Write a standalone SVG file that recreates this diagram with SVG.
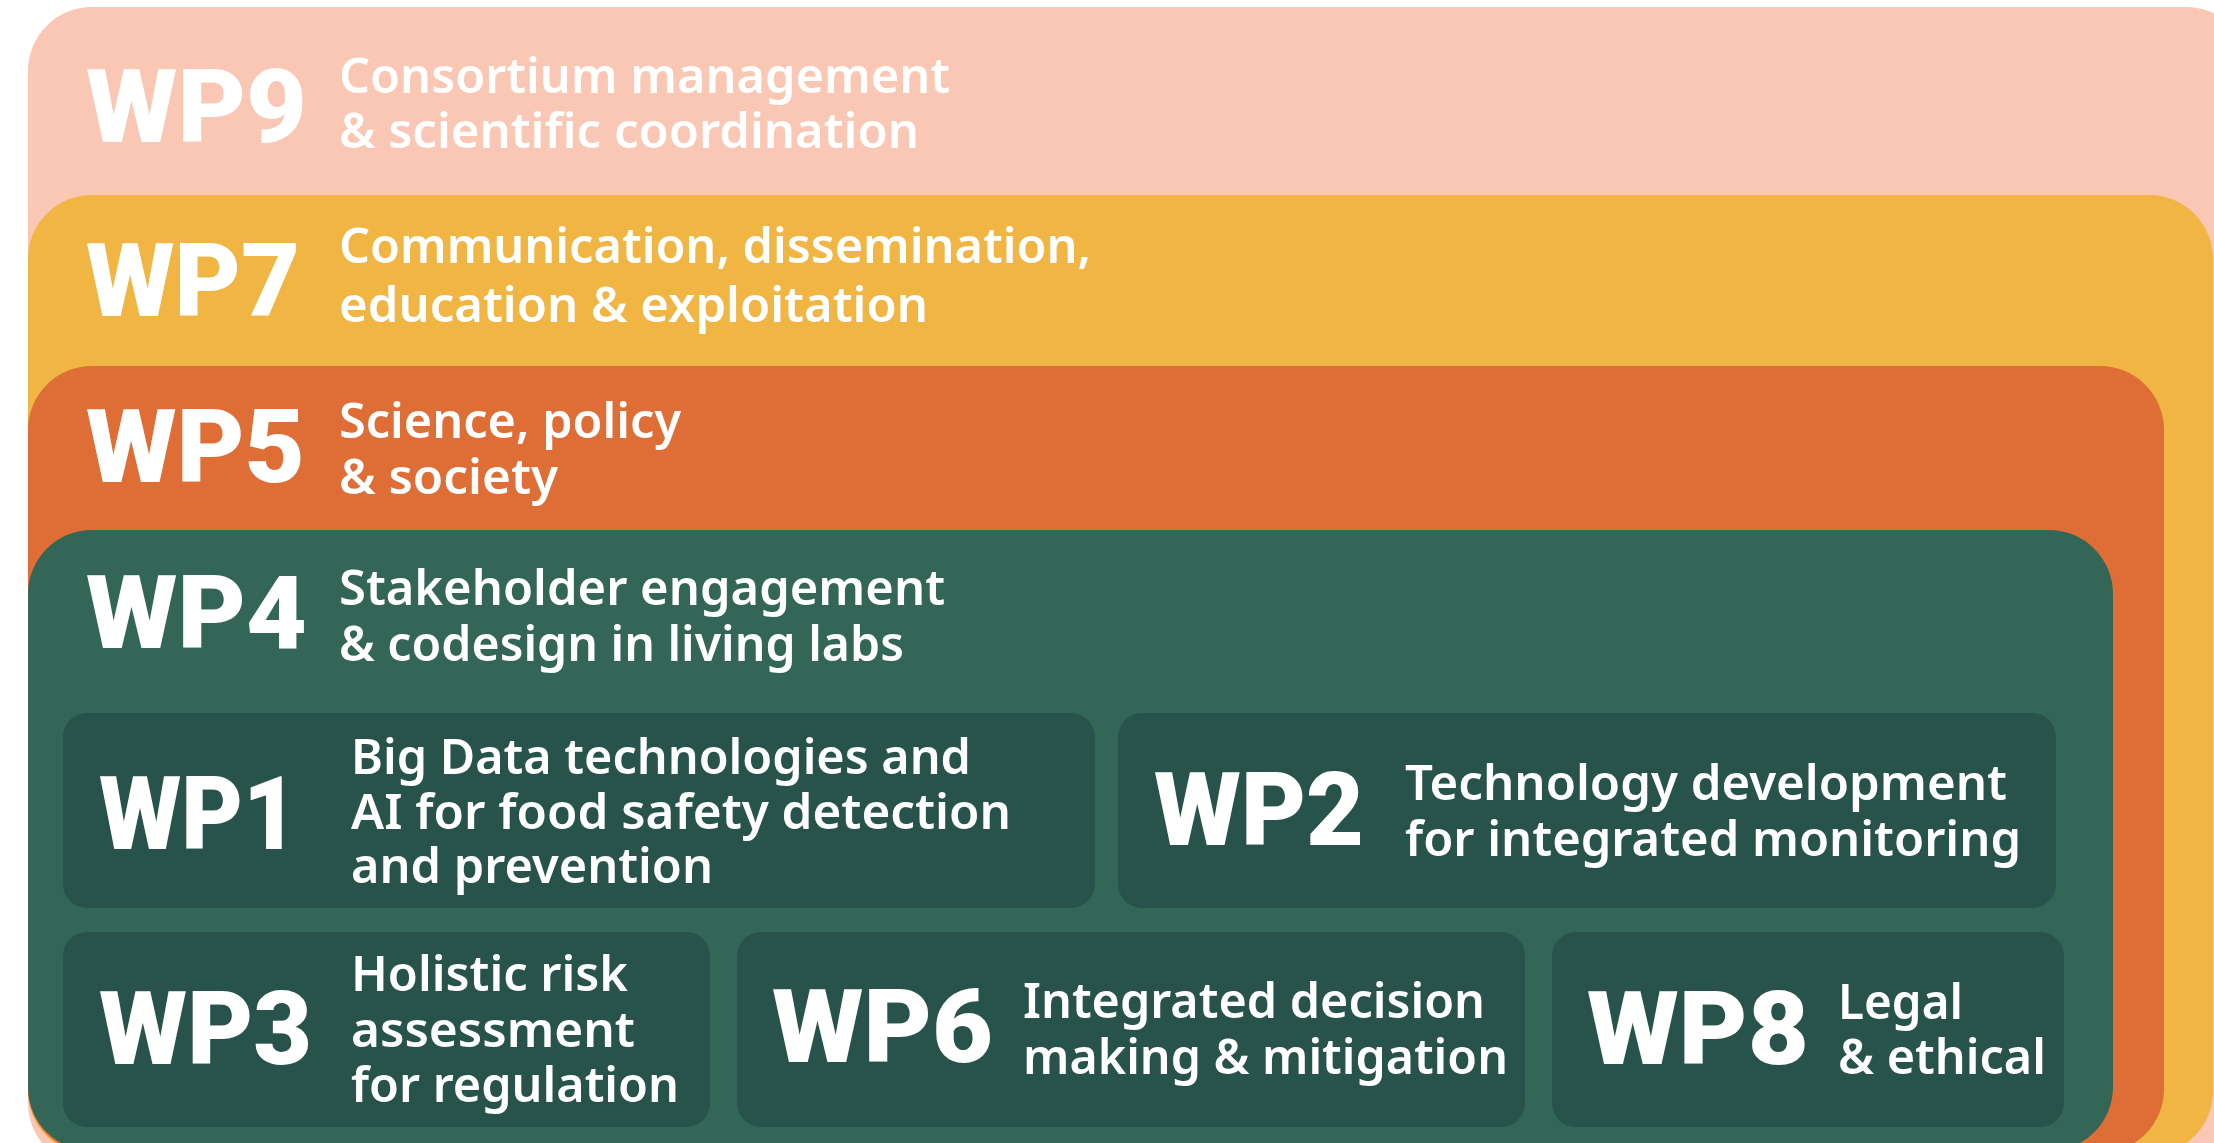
<svg xmlns="http://www.w3.org/2000/svg" width="2214" height="1143" viewBox="0 0 2214 1143">
  <style>
    .wp9 { fill: #F9C7B4; }
    .wp7 { fill: #F0B543; }
    .wp5 { fill: #DF6D36; }
    .wp4 { fill: #336657; }
    .inner { fill: #28534A; }
    .code { font-family: Roboto, Inter, "Liberation Sans", sans-serif; font-weight: 900; font-size: 102px; fill: #FFFFFF; }
    .desc { font-family: "Noto Sans", "Open Sans", "Liberation Sans", sans-serif; font-weight: 600; font-size: 49px; fill: #FFFFFF; }
  </style>
  <rect width="2214" height="1143" fill="#FFFFFF"/>

  <!-- outer work packages, nested bands -->
  <g id="wp9">
    <rect class="wp9" x="28" y="7" width="2222" height="1160" rx="64" ry="64"/>
    <text class="code" x="86" y="142" textLength="221" lengthAdjust="spacingAndGlyphs">WP9</text>
    <text class="desc">
      <tspan x="339" y="93" textLength="611" lengthAdjust="spacingAndGlyphs">Consortium management</tspan>
      <tspan x="339" y="148" textLength="580" lengthAdjust="spacingAndGlyphs">&amp; scientific coordination</tspan>
    </text>
  </g>

  <g id="wp7">
    <rect class="wp7" x="28" y="195" width="2185" height="960" rx="64" ry="64"/>
    <text class="code" x="86" y="316" textLength="214" lengthAdjust="spacingAndGlyphs">WP7</text>
    <text class="desc">
      <tspan x="339" y="263" textLength="752" lengthAdjust="spacingAndGlyphs">Communication, dissemination,</tspan>
      <tspan x="339" y="322" textLength="589" lengthAdjust="spacingAndGlyphs">education &amp; exploitation</tspan>
    </text>
  </g>

  <g id="wp5">
    <rect class="wp5" x="28" y="366" width="2136" height="787" rx="64" ry="64"/>
    <text class="code" x="86" y="482" textLength="219" lengthAdjust="spacingAndGlyphs">WP5</text>
    <text class="desc">
      <tspan x="339" y="438" textLength="342" lengthAdjust="spacingAndGlyphs">Science, policy</tspan>
      <tspan x="339" y="494" textLength="219" lengthAdjust="spacingAndGlyphs">&amp; society</tspan>
    </text>
  </g>

  <g id="wp4">
    <rect class="wp4" x="28" y="530" width="2085" height="621" rx="64" ry="64"/>
    <text class="code" x="86" y="648" textLength="221" lengthAdjust="spacingAndGlyphs">WP4</text>
    <text class="desc">
      <tspan x="339" y="605" textLength="606" lengthAdjust="spacingAndGlyphs">Stakeholder engagement</tspan>
      <tspan x="339" y="661" textLength="565" lengthAdjust="spacingAndGlyphs">&amp; codesign in living labs</tspan>
    </text>
  </g>

  <!-- inner work packages -->
  <g id="wp1">
    <rect class="inner" x="63" y="713" width="1032" height="195" rx="24" ry="24"/>
    <text class="code" x="99" y="849" textLength="199" lengthAdjust="spacingAndGlyphs">WP1</text>
    <text class="desc">
      <tspan x="351" y="774" textLength="620" lengthAdjust="spacingAndGlyphs">Big Data technologies and</tspan>
      <tspan x="351" y="829" textLength="660" lengthAdjust="spacingAndGlyphs">AI for food safety detection</tspan>
      <tspan x="351" y="883" textLength="362" lengthAdjust="spacingAndGlyphs">and prevention</tspan>
    </text>
  </g>

  <g id="wp2">
    <rect class="inner" x="1118" y="713" width="938" height="195" rx="24" ry="24"/>
    <text class="code" x="1154" y="845" textLength="210" lengthAdjust="spacingAndGlyphs">WP2</text>
    <text class="desc">
      <tspan x="1405" y="800" textLength="602" lengthAdjust="spacingAndGlyphs">Technology development</tspan>
      <tspan x="1405" y="856" textLength="616" lengthAdjust="spacingAndGlyphs">for integrated monitoring</tspan>
    </text>
  </g>

  <g id="wp3">
    <rect class="inner" x="63" y="932" width="647" height="195" rx="24" ry="24"/>
    <text class="code" x="99" y="1064" textLength="213" lengthAdjust="spacingAndGlyphs">WP3</text>
    <text class="desc">
      <tspan x="351" y="991" textLength="277" lengthAdjust="spacingAndGlyphs">Holistic risk</tspan>
      <tspan x="351" y="1047" textLength="284" lengthAdjust="spacingAndGlyphs">assessment</tspan>
      <tspan x="351" y="1102" textLength="328" lengthAdjust="spacingAndGlyphs">for regulation</tspan>
    </text>
  </g>

  <g id="wp6">
    <rect class="inner" x="737" y="932" width="788" height="195" rx="24" ry="24"/>
    <text class="code" x="772" y="1062" textLength="221" lengthAdjust="spacingAndGlyphs">WP6</text>
    <text class="desc">
      <tspan x="1023" y="1018" textLength="462" lengthAdjust="spacingAndGlyphs">Integrated decision</tspan>
      <tspan x="1023" y="1074" textLength="485" lengthAdjust="spacingAndGlyphs">making &amp; mitigation</tspan>
    </text>
  </g>

  <g id="wp8">
    <rect class="inner" x="1552" y="932" width="512" height="195" rx="24" ry="24"/>
    <text class="code" x="1587" y="1064" textLength="222" lengthAdjust="spacingAndGlyphs">WP8</text>
    <text class="desc">
      <tspan x="1838" y="1019" textLength="125" lengthAdjust="spacingAndGlyphs">Legal</tspan>
      <tspan x="1838" y="1074" textLength="208" lengthAdjust="spacingAndGlyphs">&amp; ethical</tspan>
    </text>
  </g>
</svg>
